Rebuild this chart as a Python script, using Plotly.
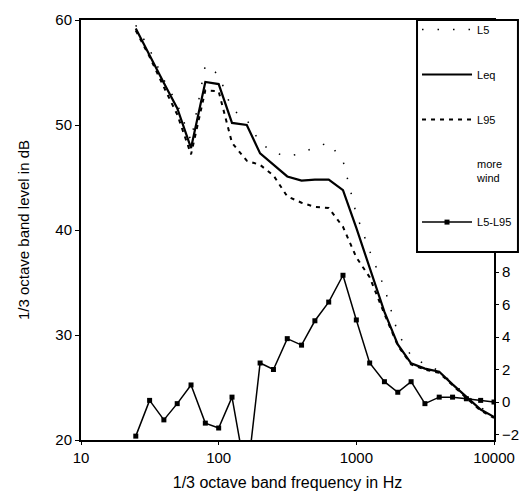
import plotly.graph_objects as go

# 1/3 octave band centre frequencies (Hz)
freqs = [25, 31.5, 40, 50, 63, 80, 100, 125, 160, 200, 250, 315, 400, 500, 630,
         800, 1000, 1250, 1600, 2000, 2500, 3150, 4000, 5000, 6300, 8000, 10000]

# levels in dB (left axis)
L5 = [59.5, 57.2, 54.3, 52.0, 48.5, 55.7, 54.8, 51.5, 50.5, 48.3, 47.4, 47.0, 47.3, 47.9, 48.3,
      46.6, 41.5, 38.0, 34.5, 30.2, 28.0, 27.2, 26.6, 25.4, 24.3, 23.1, 22.3]
Leq = [59.2, 56.6, 54.0, 51.6, 47.8, 54.1, 53.9, 50.2, 50.0, 47.3, 46.2, 45.1, 44.7, 44.8, 44.8,
       43.8, 40.2, 36.5, 32.2, 29.1, 27.3, 26.8, 26.5, 25.3, 24.1, 22.9, 22.2]
L95 = [59.0, 56.5, 53.6, 51.0, 47.2, 53.3, 53.2, 48.3, 46.6, 46.2, 45.2, 43.2, 42.6, 42.2, 42.1,
       40.3, 37.4, 35.5, 32.0, 29.0, 27.2, 26.7, 26.4, 25.2, 24.0, 22.8, 22.1]

# L5-L95 (right axis)
L5_L95 = [-2.1, 0.1, -1.1, -0.1, 1.05, -1.3, -1.6, 0.3, -4.8, 2.4, 2.0, 3.9, 3.5, 5.0, 6.15,
          7.8, 5.05, 2.4, 1.25, 0.6, 1.25, -0.1, 0.3, 0.3, 0.2, 0.1, 0.0]

x_ticks = [10, 100, 1000, 10000]
x_ticktext = ["10", "100", "1000", "10000"]
y_ticks = [20, 30, 40, 50, 60]
y2_ticks = [-2, 0, 2, 4, 6, 8]
y2_ticktext = ["\u22122", "0", "2", "4", "6", "8"]

FONT = "Liberation Sans"

fig = go.Figure()
fig.add_trace(go.Scatter(x=freqs, y=L5, name="L5", mode="lines",
                         line=dict(color="black", width=1.5, dash="1.5px,14px"),
                         legendgroup="a"))
fig.add_trace(go.Scatter(x=freqs, y=Leq, name="Leq", mode="lines",
                         line=dict(color="black", width=2.2),
                         legendgroup="b"))
fig.add_trace(go.Scatter(x=freqs, y=L95, name="L95", mode="lines",
                         line=dict(color="black", width=2, dash="4px,5px"),
                         legendgroup="c"))
fig.add_trace(go.Scatter(x=[None], y=[None], name="more<br>wind", mode="lines",
                         line=dict(color="rgba(0,0,0,0)", width=1),
                         legendgroup="d"))
fig.add_trace(go.Scatter(x=freqs, y=L5_L95, name="L5-L95", mode="lines+markers",
                         line=dict(color="black", width=1.5),
                         marker=dict(symbol="square", size=5, color="black"),
                         yaxis="y2", legendgroup="e"))

# legend frame (paper coords relative to plot area)
fig.add_shape(type="rect", xref="paper", yref="paper",
              x0=0.8136, x1=1.058, y0=0.4476, y1=1.0,
              line=dict(color="black", width=2), fillcolor="white", layer="above")

fig.update_layout(
    width=521, height=496,
    margin=dict(l=81, r=27, t=20, b=56, autoexpand=False),
    paper_bgcolor="white", plot_bgcolor="white",
    font=dict(family=FONT, size=15, color="black"),
    showlegend=True,
    legend=dict(x=0.8136, y=1.0119, xanchor="left", yanchor="top",
                bgcolor="rgba(0,0,0,0)", borderwidth=0,
                font=dict(size=11, family=FONT),
                tracegroupgap=26, itemwidth=50),
    xaxis=dict(type="log", range=[1, 4], tickvals=x_ticks, ticktext=x_ticktext,
               showline=True, linecolor="black", linewidth=2, mirror=True,
               ticks="outside", ticklen=3, tickcolor="black",
               showgrid=False, zeroline=False, automargin=False,
               title=dict(text="1/3 octave band frequency in Hz", standoff=12,
                          font=dict(size=16))),
    yaxis=dict(range=[20, 60], tickvals=y_ticks,
               showline=True, linecolor="black", linewidth=2, mirror=True,
               ticks="outside", ticklen=4, tickcolor="black",
               automargin=False,
               showgrid=False, zeroline=False,
               title=dict(text="1/3 octave band level in dB", standoff=22,
                          font=dict(size=15))),
    yaxis2=dict(overlaying="y", side="right", range=[-2.338, 23.51],
                tickvals=y2_ticks, ticktext=y2_ticktext,
                showline=True, linecolor="black", linewidth=2,
                ticks="outside", ticklen=3, tickcolor="black", automargin=False,
                showgrid=False, zeroline=False),
)

fig.write_html("out.html", config={"displayModeBar": False},
               post_script="document.body.style.margin='0px';")
